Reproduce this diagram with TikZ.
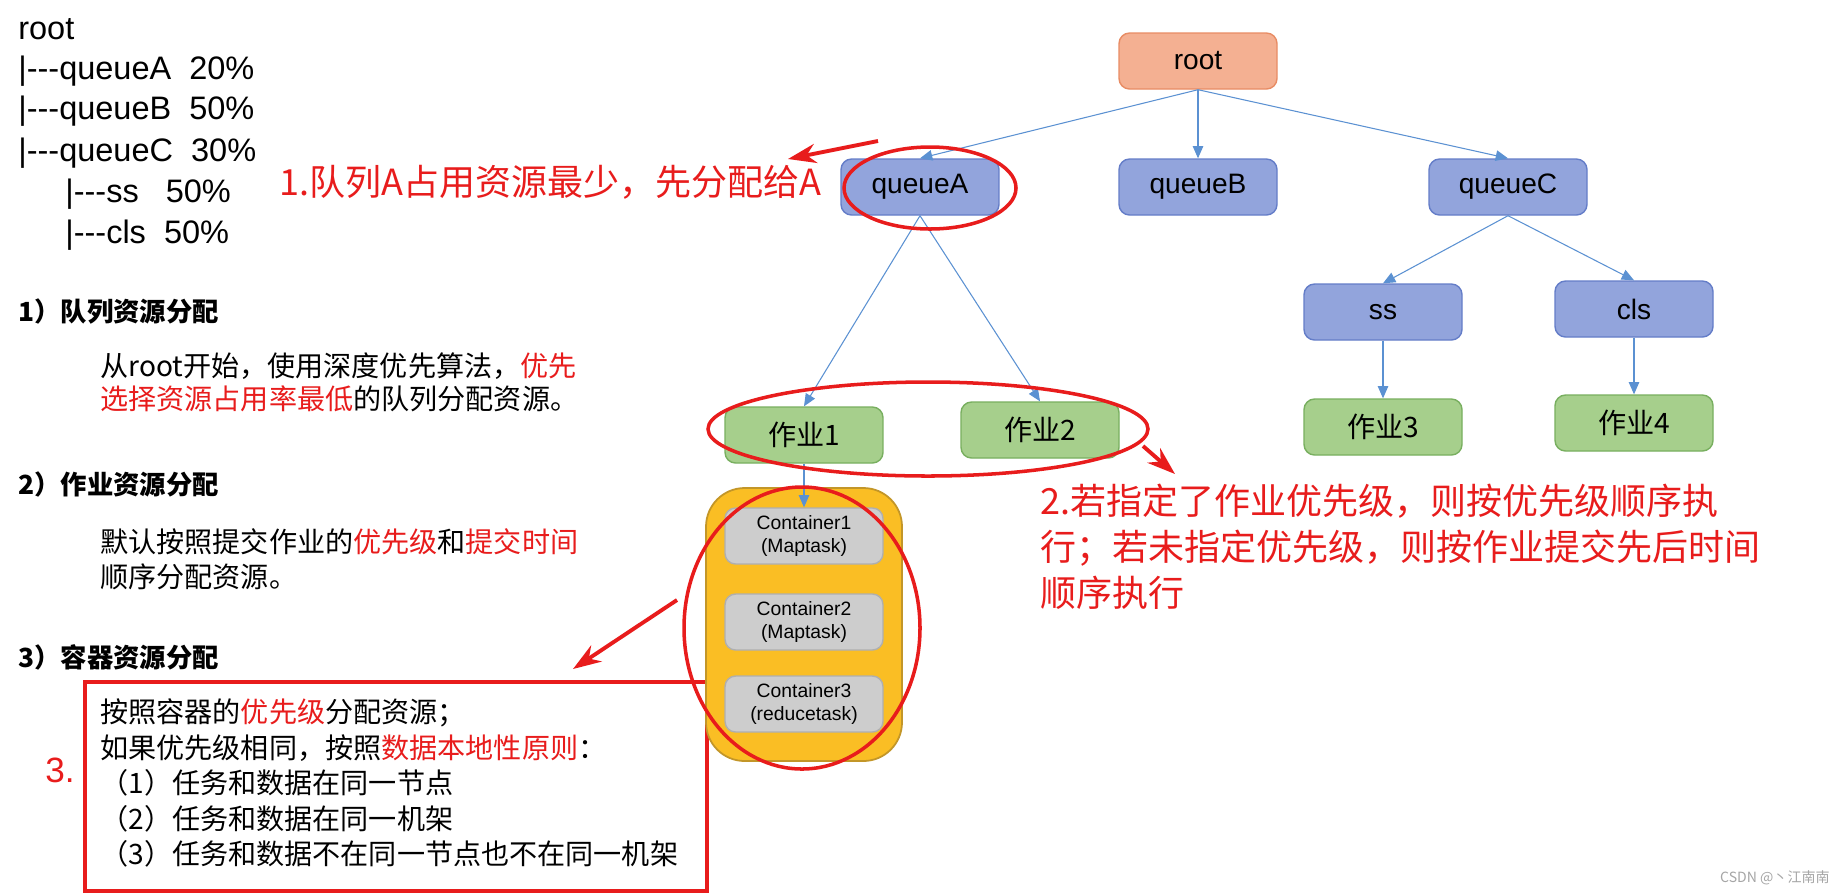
\documentclass[tikz,border=0pt]{standalone}
\usepackage{fontspec}
\setmainfont{Liberation Sans}
\newfontfamily\cjk{Noto Sans CJK SC}
\usetikzlibrary{arrows.meta,shapes.geometric}
\definecolor{myred}{RGB}{232,28,28}
\definecolor{edgeblue}{RGB}{91,145,210}
\definecolor{qfill}{RGB}{146,164,220}
\definecolor{qdraw}{RGB}{100,125,200}
\definecolor{rfill}{RGB}{244,176,146}
\definecolor{rdraw}{RGB}{232,140,100}
\definecolor{jfill}{RGB}{166,207,140}
\definecolor{jdraw}{RGB}{120,175,95}
\definecolor{cfill}{RGB}{205,205,205}
\definecolor{cdraw}{RGB}{175,175,175}
\definecolor{yfill}{RGB}{250,190,36}
\definecolor{ydraw}{RGB}{195,150,40}
\tikzset{
  treebox/.style={rectangle, rounded corners=6pt, minimum width=3.16cm, minimum height=1.12cm, line width=0.8pt, font=\fontsize{16}{19}\selectfont},
  rootbox/.style={treebox, fill=rfill, draw=rdraw},
  queuebox/.style={treebox, fill=qfill, draw=qdraw},
  jobbox/.style={treebox, fill=jfill, draw=jdraw, font=\cjk\fontsize{16}{19}\selectfont},
  contbox/.style={treebox, fill=cfill, draw=cdraw, align=center, font=\fontsize{11}{13}\selectfont},
  link/.style={edgeblue, line width=0.6pt, -{Triangle[length=7pt,width=6pt]}},
  redring/.style={myred, line width=2pt},
  redarrow/.style={myred, line width=2.2pt, -{Stealth[length=16pt,width=11pt]}},
  treetext/.style={anchor=west, inner sep=0pt, font=\fontsize{18.5}{22}\selectfont},
  headtext/.style={anchor=west, inner sep=0pt, font=\cjk\bfseries\fontsize{15}{18}\selectfont},
  bodytext/.style={anchor=west, inner sep=0pt, font=\cjk\fontsize{16}{18}\selectfont},
  notetext/.style={anchor=west, inner sep=0pt, text=myred, font=\cjk\fontsize{20.5}{26}\selectfont}
}
\begin{document}
\begin{tikzpicture}[x=0.02cm, y=-0.02cm]
  \useasboundingbox[fill=white] (0,0) rectangle (1838,894);

  % left tree listing
  \node[treetext] (lroot) at (18,29) {root};
  \node[treetext] (la) at (18,71) {|-{}-{}-queueA\ \ 20\%};
  \node[treetext] (lb) at (18,111) {|-{}-{}-queueB\ \ 50\%};
  \node[treetext] (lc) at (18,153) {|-{}-{}-queueC\ \ 30\%};
  \node[treetext] (lss) at (65,194) {|-{}-{}-ss\ \ \ 50\%};
  \node[treetext] (lcls) at (65,235) {|-{}-{}-cls\ \ 50\%};

  % left explanations
  \node[headtext] (h1) at (18,311) {1）队列资源分配};
  \node[bodytext] (p1a) at (100,366) {从root开始，使用深度优先算法，\textcolor{myred}{优先}};
  \node[bodytext] (p1b) at (100,399) {\textcolor{myred}{选择资源占用率最低}的队列分配资源。};
  \node[headtext] (h2) at (18,484) {2）作业资源分配};
  \node[bodytext] (p2a) at (100,542) {默认按照提交作业的\textcolor{myred}{优先级}和\textcolor{myred}{提交时间}};
  \node[bodytext] (p2b) at (100,577) {顺序分配资源。};
  \node[headtext] (h3) at (18,657) {3）容器资源分配};

  \draw[myred, line width=1.8pt] (85,682) rectangle (707,891);
  \node[bodytext] (r1) at (100,713) {按照容器的\textcolor{myred}{优先级}分配资源；};
  \node[bodytext] (r2) at (100,748) {如果优先级相同，按照\textcolor{myred}{数据本地性原则}：};
  \node[bodytext] (r3) at (100,783) {（1）任务和数据在同一节点};
  \node[bodytext] (r4) at (100,819) {（2）任务和数据在同一机架};
  \node[bodytext] (r5) at (100,854) {（3）任务和数据不在同一节点也不在同一机架};
  \node[anchor=west, inner sep=0pt, text=myred, font=\fontsize{20}{24}\selectfont] (n3) at (45,770) {3.};

  % tree
  \node[rootbox] (root) at (1198,61) {root};
  \node[queuebox] (qa) at (920,187) {queueA};
  \node[queuebox] (qb) at (1198,187) {queueB};
  \node[queuebox] (qc) at (1508,187) {queueC};
  \node[queuebox] (ss) at (1383,312) {ss};
  \node[queuebox] (cls) at (1634,309) {cls};
  \node[jobbox] (job1) at (804,435) {作业1};
  \node[jobbox] (job2) at (1040,430) {作业2};
  \node[jobbox] (job3) at (1383,427) {作业3};
  \node[jobbox] (job4) at (1634,423) {作业4};

  \draw[fill=yfill, draw=ydraw, line width=1pt, rounded corners=22pt] (706,488) rectangle (902,761);
  \node[contbox] (c1) at (804,536) {Container1\\(Maptask)};
  \node[contbox] (c2) at (804,622) {Container2\\(Maptask)};
  \node[contbox] (c3) at (804,704) {Container3\\(reducetask)};

  \draw[link] (root.south) -- (qa.north);
  \draw[link] (root.south) -- (qb.north);
  \draw[link] (root.south) -- (qc.north);
  \draw[link] (qa.south) -- (job1.north);
  \draw[link] (qa.south) -- (job2.north);
  \draw[link] (qc.south) -- (ss.north);
  \draw[link] (qc.south) -- (cls.north);
  \draw[link] (ss.south) -- (job3.north);
  \draw[link] (cls.south) -- (job4.north);
  \draw[link] (job1.south) -- (c1.north);

  % red marks
  \draw[redring] (930,188) ellipse [x radius=86, y radius=41];
  \draw[redring] (928,429) ellipse [x radius=220, y radius=47];
  \draw[redring] (802,628) ellipse [x radius=118, y radius=141];

  \node[notetext] (note1) at (279,182) {1.队列A占用资源最少，先分配给A};
  \node[notetext, anchor=north west, align=left] (note2) at (1040,484)
    {2.若指定了作业优先级，则按优先级顺序执\\行；若未指定优先级，则按作业提交先后时间\\顺序执行};

  \coordinate (a1s) at (878,141);
  \coordinate (a1e) at (788,159);
  \coordinate (a2s) at (1143,446);
  \coordinate (a2e) at (1175,474);
  \coordinate (a3s) at (677,600);
  \coordinate (a3e) at (573,669);
  \draw[redarrow] (a1s) -- (a1e);
  \draw[redarrow] (a2s) -- (a2e);
  \draw[redarrow] (a3s) -- (a3e);

  \node[anchor=east, inner sep=0pt, text=gray!70, font=\cjk\fontsize{8}{10}\selectfont] (wm) at (1830,878) {CSDN @丶江南南};
\end{tikzpicture}
\end{document}
